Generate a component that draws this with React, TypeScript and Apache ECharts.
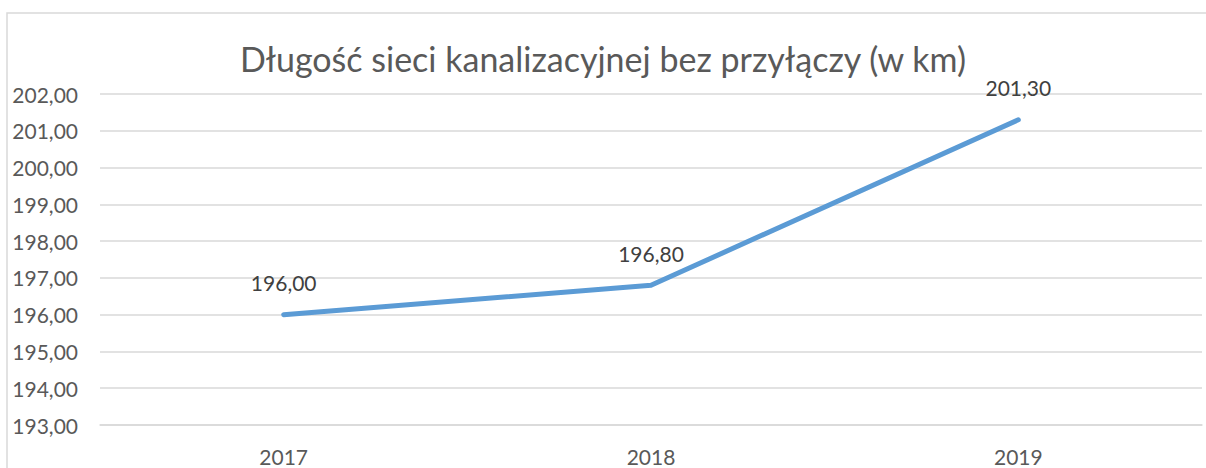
import React, { useEffect, useRef } from "react";
import * as echarts from "echarts";

const categories = ["2017", "2018", "2019"];
const values = [196.0, 196.8, 201.3];
const yMin = 193;
const yMax = 202;
const title = "Długość sieci kanalizacyjnej bez przyłączy (w km)";

const fmt = (v: number) => v.toFixed(2).replace(".", ",");

export default function App() {
  const ref = useRef<HTMLDivElement>(null);
  useEffect(() => {
    if (!ref.current) return;
    const chart = echarts.init(ref.current, null, { renderer: "svg" });
    const font = "Lato, 'Noto Sans', sans-serif";
    chart.setOption({
      animation: false,
      backgroundColor: "#ffffff",
      textStyle: { fontFamily: font },
      title: {
        text: title,
        left: "center",
        top: 36,
        textStyle: { fontFamily: font, fontSize: 34, fontWeight: "normal", color: "#595959" },
      },
      graphic: [
        {
          type: "rect",
          shape: { x: 7, y: 13, width: 1300, height: 500 },
          style: { fill: "none", stroke: "#D9D9D9", lineWidth: 1.5 },
          silent: true,
        },
      ],
      grid: { left: 100, right: 4, top: 94, bottom: 43 },
      xAxis: {
        type: "category",
        data: categories,
        boundaryGap: true,
        axisLine: { lineStyle: { color: "#D9D9D9", width: 1.5 } },
        axisTick: { show: false },
        axisLabel: { color: "#595959", fontSize: 21, margin: 21, fontFamily: font },
      },
      yAxis: {
        type: "value",
        min: yMin,
        max: yMax,
        interval: 1,
        axisLine: { show: false },
        axisTick: { show: false },
        splitLine: { lineStyle: { color: "#D9D9D9", width: 1.5 } },
        axisLabel: {
          color: "#595959",
          fontSize: 21,
          margin: 22,
          fontFamily: font,
          formatter: (v: number) => fmt(v),
        },
      },
      series: [
        {
          type: "line",
          data: values,
          symbol: "circle",
          symbolSize: 1,
          itemStyle: { color: "#5B9BD5" },
          lineStyle: { color: "#5B9BD5", width: 5, cap: "round", join: "round" },
          label: {
            show: true,
            position: "top",
            distance: 21,
            color: "#404040",
            fontSize: 21,
            fontFamily: font,
            formatter: (p: any) => fmt(p.value),
          },
        },
      ],
    });
    return () => chart.dispose();
  }, []);
  return (
    <div
      ref={ref}
      style={{ position: "absolute", left: 0, top: 0, width: 1206, height: 468 }}
    />
  );
}
